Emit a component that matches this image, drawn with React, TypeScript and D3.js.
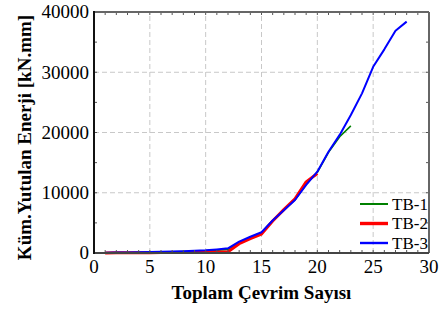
import * as d3 from 'd3';

// cycle numbers and cumulative absorbed energy [kN.mm]
const cyclesTB1 = [1, 2, 3, 4, 5, 6, 7, 8, 9, 10, 11, 12, 13, 14, 15, 16, 17, 18, 19, 20, 21, 22, 23];
const energyTB1 = [40, 60, 80, 100, 130, 160, 200, 250, 300, 380, 480, 600, 1750, 2600, 3350, 5400, 7150, 8850, 11400, 13400, 16700, 19300, 21100];

const cyclesTB2 = [1, 2, 3, 4, 5, 6, 7, 8, 9, 10, 11, 12, 13, 14, 15, 16, 17, 18, 19, 20];
const energyTB2 = [20, 30, 40, 50, 60, 70, 80, 100, 120, 150, 180, 220, 1550, 2400, 3150, 5300, 7200, 9000, 11800, 13200];

const cyclesTB3 = [1, 2, 3, 4, 5, 6, 7, 8, 9, 10, 11, 12, 13, 14, 15, 16, 17, 18, 19, 20, 21, 22, 23, 24, 25, 26, 27, 28];
const energyTB3 = [60, 80, 100, 130, 160, 200, 250, 300, 360, 450, 600, 780, 1900, 2700, 3450, 5400, 7100, 8800, 11300, 13500, 16800, 19600, 22900, 26500, 30900, 33800, 36900, 38400];

const seriesNames = ['TB-1', 'TB-2', 'TB-3'];
const seriesColors = ['#008000', '#ff0000', '#0000ff'];
const seriesWidths = [1.6, 3, 2];

const xTicks = [0, 5, 10, 15, 20, 25, 30];
const yTicks = [0, 10000, 20000, 30000, 40000];

const font = 'Liberation Serif';

export default function App() {
  const width = 441;
  const height = 309;
  const m = { left: 94, right: 12, top: 12, bottom: 56 };

  const x = d3.scaleLinear().domain([0, 30]).range([m.left, width - m.right]);
  const y = d3.scaleLinear().domain([0, 40000]).range([height - m.bottom, m.top]);

  const line = d3.line<[number, number]>()
    .x(d => x(d[0]))
    .y(d => y(d[1]));

  const series = [
    d3.zip(cyclesTB1, energyTB1) as [number, number][],
    d3.zip(cyclesTB2, energyTB2) as [number, number][],
    d3.zip(cyclesTB3, energyTB3) as [number, number][],
  ];

  const minorX = d3.range(0, 31, 1);
  const minorY = d3.range(0, 40001, 5000);
  const x0 = x(0), x1 = x(30), y0 = y(0), y1 = y(40000);

  return (
    <svg width={width} height={height} style={{ position: 'absolute', left: 0, top: 0, background: '#fff' }}>
      {/* grid */}
      <g stroke="#c8c8c8" strokeDasharray="5,3" strokeWidth={1}>
        {xTicks.slice(1, -1).map(t => (
          <line key={'gx' + t} x1={x(t)} x2={x(t)} y1={y0} y2={y1} />
        ))}
        {yTicks.slice(1, -1).map(t => (
          <line key={'gy' + t} x1={x0} x2={x1} y1={y(t)} y2={y(t)} />
        ))}
      </g>

      {/* lines */}
      {series.map((s, i) => (
        <path key={seriesNames[i]} d={line(s) ?? ''} fill="none" stroke={seriesColors[i]}
          strokeWidth={seriesWidths[i]} strokeLinejoin="round" />
      ))}

      {/* inward minor ticks */}
      <g stroke="#555" strokeWidth={1}>
        {minorX.map(t => (
          <g key={'tx' + t}>
            <line x1={x(t)} x2={x(t)} y1={y0} y2={y0 - 3} />
            <line x1={x(t)} x2={x(t)} y1={y1} y2={y1 + 3} />
          </g>
        ))}
        {minorY.map(t => (
          <g key={'ty' + t}>
            <line x1={x0} x2={x0 + 3} y1={y(t)} y2={y(t)} />
            <line x1={x1} x2={x1 - 3} y1={y(t)} y2={y(t)} />
          </g>
        ))}
      </g>

      {/* frame */}
      <line x1={x0} x2={x1} y1={y1} y2={y1} stroke="#666" strokeWidth={2} />
      <line x1={x1} x2={x1} y1={y1} y2={y0} stroke="#666" strokeWidth={2} />
      <line x1={x0} x2={x1} y1={y0} y2={y0} stroke="#444" strokeWidth={2} />
      <line x1={x0} x2={x0} y1={y1 - 1} y2={y0 + 1} stroke="#111" strokeWidth={2} />

      {/* tick labels */}
      {xTicks.map(t => (
        <text key={'lx' + t} x={x(t)} y={y0 + 20} textAnchor="middle" fontFamily={font} fontSize={19}>{t}</text>
      ))}
      {yTicks.map(t => (
        <text key={'ly' + t} x={x0 - 5} y={y(t)} dy="0.33em" textAnchor="end" fontFamily={font} fontSize={19}>{t}</text>
      ))}

      {/* axis titles */}
      <text x={(x0 + x1) / 2} y={299} textAnchor="middle" fontWeight="bold" fontSize={19} fontFamily={font}>
        Toplam Çevrim Sayısı
      </text>
      <text transform={`translate(31,${(y0 + y1) / 2 + 5}) rotate(-90)`} textAnchor="middle"
        fontWeight="bold" fontSize={19} fontFamily={font}>
        Küm.Yutulan Enerji [kN.mm]
      </text>

      {/* legend */}
      {seriesNames.map((name, i) => (
        <g key={'lg' + name} transform={`translate(360,${204 + i * 19.5})`}>
          <line x1={0} x2={28} y1={0} y2={0} stroke={seriesColors[i]} strokeWidth={seriesWidths[i] + 0.4} />
          <text x={32} y={0} dy="0.33em" fontSize={17} fontFamily={font}>{name}</text>
        </g>
      ))}
    </svg>
  );
}
